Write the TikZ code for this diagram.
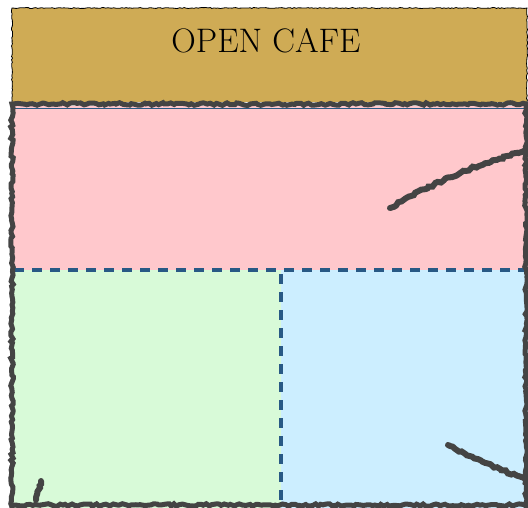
\documentclass[tikz,border=0pt]{standalone}
\usetikzlibrary{decorations.pathmorphing}
\definecolor{aurcafe}{HTML}{CFAB55}
\definecolor{rozzona}{HTML}{FFC8CC}
\definecolor{verdezona}{HTML}{D8FAD8}
\definecolor{albastruzona}{HTML}{CCEEFF}
\definecolor{liniealbastra}{HTML}{285985}
\definecolor{gricreion}{HTML}{444444}

\begin{document}
\begin{tikzpicture}[
        x=1pt, y=-1pt,
        titlu/.style={font=\fontsize{34}{36}\selectfont, text=black},
        margine/.style={draw=black, line width=0.8pt, decorate,
            decoration={random steps, segment length=2pt, amplitude=0.5pt}},
        creion/.style={draw=gricreion, line width=6pt, line cap=round, decorate,
            decoration={random steps, segment length=3pt, amplitude=1.3pt}},
        despartire/.style={draw=liniealbastra, line width=3.5pt, dash pattern=on 10pt off 8pt},
    ]
        \useasboundingbox (0,0) rectangle (528,508);
        % banda de sus
        \fill[aurcafe] (12,8) rectangle (527,102);
        \draw[margine] (12,102) -- (12,8) -- (527,8) -- (527,102);
        \node[titlu] (cafe) at (266,41) {OPEN CAFE};
        % zonele
        \fill[rozzona] (12,106) rectangle (528,270);
        \fill[verdezona] (12,270) rectangle (281,508);
        \fill[albastruzona] (281,270) rectangle (528,508);
        \draw[liniealbastra, line width=1pt] (14,109) -- (528,109);
        \draw[despartire] (14,270) -- (528,270);
        \draw[despartire] (281,274) -- (281,508);
        % conturul mare
        \draw[creion, line width=5pt] (12,512) -- (12,104) -- (526,104) -- (526,512);
        \draw[creion, line width=5pt] (12,505) -- (526,505);
        % urme de creion
        \draw[creion] (390,208) .. controls (430,185) and (470,165) .. (530,150);
        \draw[creion] (448,445) .. controls (475,460) and (500,468) .. (530,482);
        \draw[creion] (36,500) -- (41,481);
    \end{tikzpicture}
\end{document}
